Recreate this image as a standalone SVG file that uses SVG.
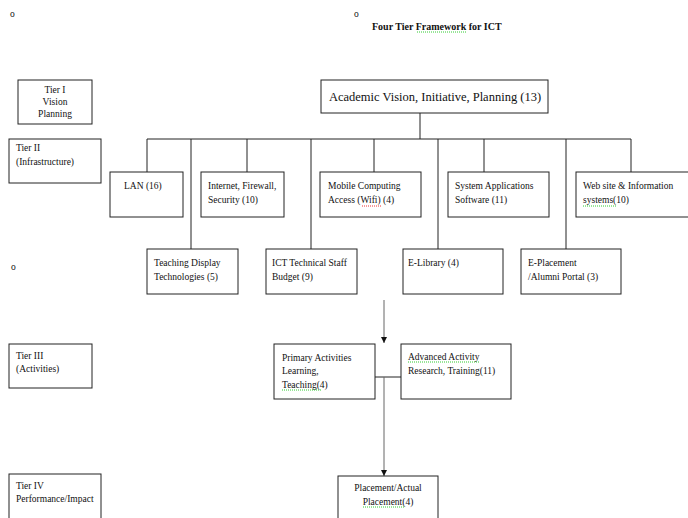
<svg xmlns="http://www.w3.org/2000/svg" width="688" height="518" viewBox="0 0 688 518">
<style>
.box{fill:#fff;stroke:#222;stroke-width:1}
.t{font-family:"Liberation Serif","Times New Roman",serif;font-size:9.5px;fill:#111}
.c{text-anchor:middle}
.big{font-size:12.5px}
.title{font-weight:bold;font-size:10px}
.ln{stroke:#222;stroke-width:1;fill:none}
.ar{stroke:#666;stroke-width:1;fill:none}
.sq{fill:none;stroke-width:1;stroke-dasharray:1 1}
.g{stroke:#3c3}
.r{stroke:#e33}
</style>
<defs>
<marker id="ah" viewBox="0 0 8 8" refX="8" refY="4" markerWidth="6" markerHeight="6" orient="auto" markerUnits="userSpaceOnUse">
<path d="M0,0 L8,4 L0,8 z" fill="#111"/>
</marker>
</defs>
<rect width="688" height="518" fill="#fff"/>

<text class="t" x="10" y="17">o</text>
<text class="t" x="354" y="17">o</text>
<text class="t" x="11" y="270">o</text>
<text class="t title" x="372" y="30">Four Tier Framework for ICT</text>

<g id="connectors">
<path class="ln" d="M420,113 V139 M147,139 H631 M147,139 V172 M191,139 V249 M247,139 V172 M311,139 V249 M374,139 V172 M438,139 V249 M484,139 V172 M566,139 V249 M631,139 V172"/>
<line class="ar" x1="384" y1="300" x2="384" y2="343" marker-end="url(#ah)"/>
<path class="ln" d="M375,377 H401"/>
<line class="ar" x1="384" y1="377" x2="384" y2="476" marker-end="url(#ah)"/>
</g>

<g id="tier1">
<rect class="box" x="18" y="80" width="74" height="44"/>
<text class="t c" x="55" y="93">Tier I</text>
<text class="t c" x="55" y="105">Vision</text>
<text class="t c" x="55" y="117">Planning</text>
</g>
<g id="academic">
<rect class="box" x="321" y="80" width="227" height="33"/>
<text class="t c big" x="435" y="101">Academic Vision, Initiative, Planning (13)</text>
</g>
<g id="tier2">
<rect class="box" x="9" y="139" width="92" height="44"/>
<text class="t" x="16" y="151">Tier II</text>
<text class="t" x="16" y="165">(Infrastructure)</text>
</g>
<g id="lan">
<rect class="box" x="110" y="172" width="73" height="45"/>
<text class="t" x="124" y="189">LAN (16)</text>
</g>
<g id="internet">
<rect class="box" x="201" y="172" width="83" height="45"/>
<text class="t" x="208" y="189">Internet, Firewall,</text>
<text class="t" x="208" y="203">Security (10)</text>
</g>
<g id="mobile">
<rect class="box" x="320" y="172" width="101" height="45"/>
<text class="t" x="328" y="189">Mobile Computing</text>
<text class="t" x="328" y="203">Access (Wifi) (4)</text>
</g>
<g id="system">
<rect class="box" x="448" y="172" width="101" height="45"/>
<text class="t" x="455" y="189">System Applications</text>
<text class="t" x="455" y="203">Software (11)</text>
</g>
<g id="web">
<rect class="box" x="576" y="172" width="116" height="45"/>
<text class="t" x="583" y="189">Web site &amp; Information</text>
<text class="t" x="583" y="203">systems(10)</text>
</g>
<g id="teaching">
<rect class="box" x="147" y="249" width="91" height="45"/>
<text class="t" x="154" y="266">Teaching Display</text>
<text class="t" x="154" y="280">Technologies (5)</text>
</g>
<g id="ictstaff">
<rect class="box" x="266" y="249" width="91" height="45"/>
<text class="t" x="272" y="266">ICT Technical Staff</text>
<text class="t" x="272" y="280">Budget (9)</text>
</g>
<g id="elibrary">
<rect class="box" x="403" y="249" width="100" height="45"/>
<text class="t" x="408" y="266">E-Library (4)</text>
</g>
<g id="eplacement">
<rect class="box" x="521" y="249" width="100" height="45"/>
<text class="t" x="528" y="266">E-Placement</text>
<text class="t" x="528" y="280">/Alumni Portal (3)</text>
</g>
<g id="tier3">
<rect class="box" x="9" y="344" width="83" height="44"/>
<text class="t" x="16" y="359">Tier III</text>
<text class="t" x="16" y="372">(Activities)</text>
</g>
<g id="primary">
<rect class="box" x="274" y="344" width="101" height="55"/>
<text class="t" x="282" y="361">Primary Activities</text>
<text class="t" x="282" y="374">Learning,</text>
<text class="t" x="282" y="388">Teaching(4)</text>
</g>
<g id="advanced">
<rect class="box" x="401" y="344" width="110" height="55"/>
<text class="t" x="408" y="360">Advanced Activity</text>
<text class="t" x="408" y="374">Research, Training(11)</text>
</g>
<g id="tier4">
<rect class="box" x="9" y="474" width="92" height="50"/>
<text class="t" x="16" y="489">Tier IV</text>
<text class="t" x="16" y="502">Performance/Impact</text>
</g>
<g id="placement">
<rect class="box" x="338" y="476" width="100" height="50"/>
<text class="t c" x="388" y="491">Placement/Actual</text>
<text class="t c" x="388" y="505">Placement(4)</text>
</g>

<g id="spellmarks">
<path class="sq g" d="M417,32 H467"/>
<path class="sq r" d="M362,206 H382"/>
<path class="sq g" d="M583,206 H617"/>
<path class="sq g" d="M408,362 H480"/>
<path class="sq g" d="M282,390 H322"/>
<path class="sq g" d="M363,507 H404"/>
</g>
</svg>
